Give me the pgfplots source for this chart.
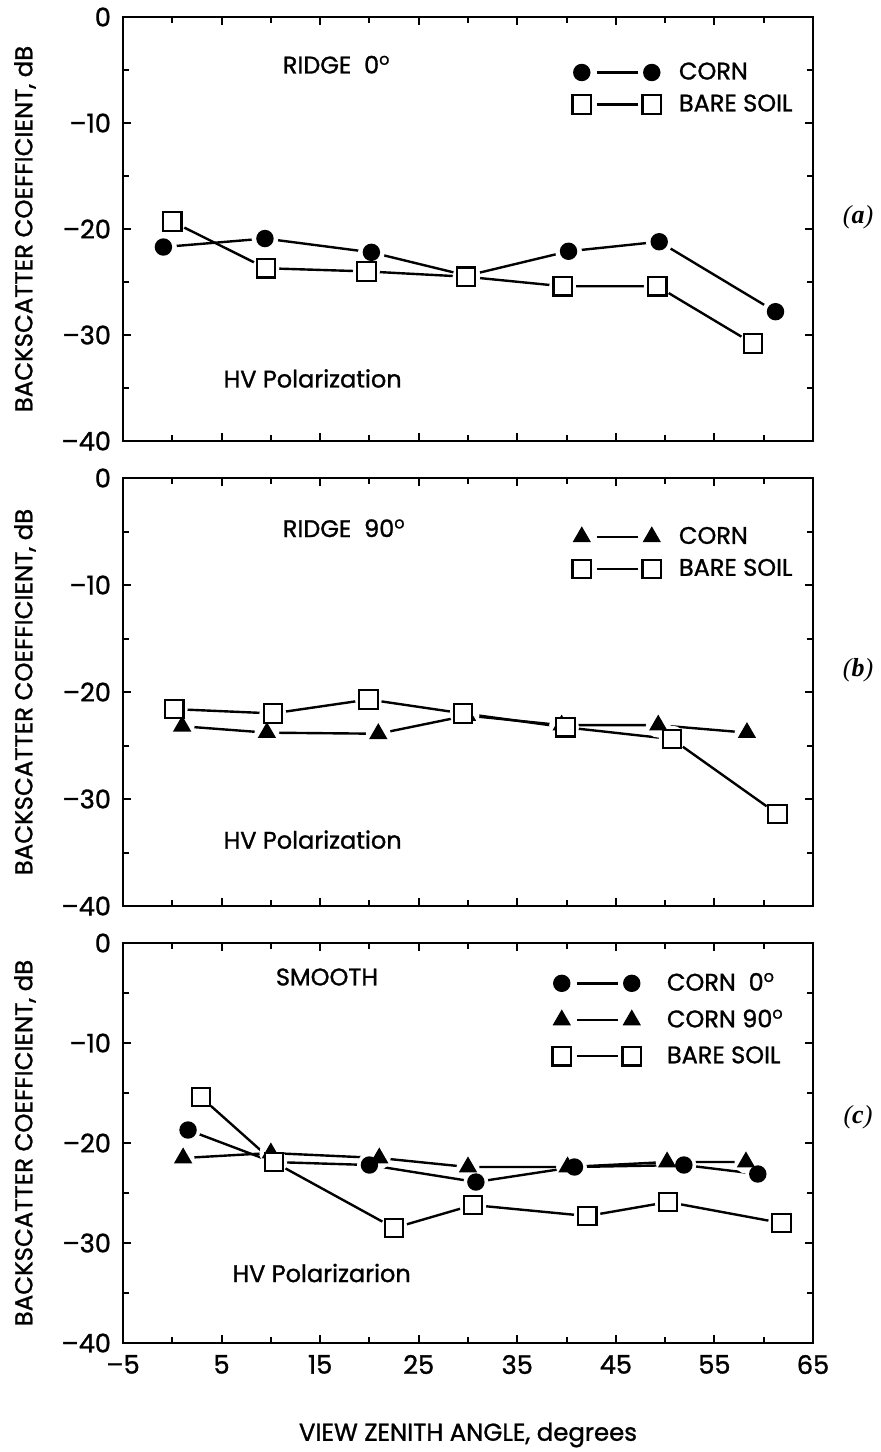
\documentclass[border=0pt]{standalone}
\usepackage{fontspec}
\setmainfont{Poppins}[FakeBold=1.2]
\newfontfamily\serif{Liberation Serif}
\usepackage{pgfplots}
\usepackage{pgfplotstable}
\pgfplotsset{compat=1.18}

\pgfplotstableread{
x y
-0.9 -21.7
9.4 -20.9
20.2 -22.2
29.9 -24.4
40.2 -22.1
49.4 -21.2
61.2 -27.8
}\Acorn
\pgfplotstableread{
x y
0.0 -19.3
9.5 -23.7
19.7 -24.0
29.8 -24.5
39.6 -25.4
49.2 -25.4
58.9 -30.8
}\Asoil
\pgfplotstableread{
x y
1.0 -23.2
9.6 -23.8
20.9 -23.9
29.9 -22.2
39.5 -23.1
49.3 -23.1
58.3 -23.8
}\Bcorn
\pgfplotstableread{
x y
0.2 -21.6
10.2 -22.0
19.9 -20.7
29.5 -22.0
39.9 -23.3
50.7 -24.4
61.4 -31.4
}\Bsoil
\pgfplotstableread{
x y
1.6 -18.7
10.2 -21.9
20.0 -22.2
30.8 -23.9
40.8 -22.4
51.9 -22.2
59.4 -23.1
}\Ccornz
\pgfplotstableread{
x y
1.1 -21.5
10.0 -21.0
21.0 -21.5
30.0 -22.4
40.1 -22.4
50.2 -21.9
58.2 -21.9
}\Ccornn
\pgfplotstableread{
x y
2.9 -15.4
10.3 -21.9
22.5 -28.5
30.5 -26.2
42.1 -27.3
50.3 -25.9
61.8 -28.0
}\Csoil

\newcommand{\lfont}{\fontsize{12.8}{15}\selectfont}
\newcommand{\tfont}{\fontsize{12}{14}\selectfont}

\pgfplotsset{
  panel/.style={
    scale only axis, width=345pt,
    xmin=-5, xmax=65, ymin=-40, ymax=0,
    xtick={-5,5,...,65}, minor xtick={0,10,...,60},
    ytick={-40,-30,...,0}, minor ytick={-35,-25,...,-5},
    yticklabels={–40,–30,–20,–10,0},
    tick align=inside,
    major tick length=4pt, minor tick length=3pt,
    axis line style={line width=1.2pt},
    every tick/.style={black, line width=1pt},
    ticklabel style={font=\lfont},
    yticklabel style={xshift=-2.5pt},
    ylabel={BACKSCATTER COEFFICIENT, dB},
    every axis y label/.style={at={(axis description cs:0,0.5)}, xshift=-49pt, rotate=90, anchor=center, font=\fontsize{12.2}{15}\selectfont},
    legend style={draw=none, fill=none, font=\tfont, row sep=2pt, inner sep=0pt,
      /tikz/every odd column/.append style={column sep=7pt}},
    legend cell align=left,
  },
  lin/.style={forget plot, black, line width=1.2pt, mark=none},
  halo/.style={forget plot, only marks, mark=*, mark size=#1, mark options={fill=white, draw=white}},
  twoend/.style={legend image code/.code={
      \draw[black, line width=1.2pt] (7.5pt,0pt) -- (28pt,0pt);
      \draw[##1, only marks] plot coordinates {(0pt,0pt) (35pt,0pt)};
  }},
  circ/.style={only marks, black, line width=1.1pt, mark=*, mark size=3.8pt, mark options={fill=black, draw=black}, twoend},
  sq/.style={only marks, black, line width=1.1pt, mark=square*, mark size=4.6pt, mark options={fill=white, draw=black}, twoend},
  tri/.style={only marks, black, line width=1.1pt, mark=triangle*, mark size=4.2pt, mark options={fill=black, draw=black}, twoend},
}

\begin{document}
\begin{tikzpicture}
\path[use as bounding box] (-61.5pt,8.5pt) rectangle (378.5pt,-717.5pt);

% ---------- (a)
\begin{axis}[panel, at={(0pt,0pt)}, anchor=north west, height=212pt,
  xticklabels={},
  legend style={at={(0.651,0.903)}, anchor=north west}]
\addplot[lin] table {\Acorn};
\addplot[lin] table {\Asoil};
\addplot[halo=6.5pt] table {\Acorn};
\addplot[halo=6.5pt] table {\Asoil};
\addplot[circ] table {\Acorn}; \addlegendentry{CORN}
\addplot[sq] table {\Asoil}; \addlegendentry{BARE SOIL}
\node[anchor=west, font=\tfont] at (axis cs:10.5,-4.5) {RIDGE\ \ 0\textsuperscript{o}};
\node[anchor=west, font=\tfont] at (axis cs:4.5,-34.1) {HV Polarization};
\end{axis}

% ---------- (b)
\begin{axis}[panel, at={(0pt,-230.5pt)}, anchor=north west, height=214pt,
  xticklabels={},
  legend style={at={(0.651,0.896)}, anchor=north west}]
\addplot[lin] table {\Bcorn};
\addplot[lin] table {\Bsoil};
\addplot[halo=6pt] table {\Bcorn};
\addplot[halo=6.5pt] table {\Bsoil};
\addplot[tri] table {\Bcorn}; \addlegendentry{CORN}
\addplot[sq] table {\Bsoil}; \addlegendentry{BARE SOIL}
\node[anchor=west, font=\tfont] at (axis cs:10.5,-4.7) {RIDGE\ \ 90\textsuperscript{o}};
\node[anchor=west, font=\tfont] at (axis cs:4.5,-33.8) {HV Polarization};
\end{axis}

% ---------- (c)
\begin{axis}[panel, at={(0pt,-463pt)}, anchor=north west, height=200pt,
  xticklabels={–5,5,15,25,35,45,55,65},
  xticklabel style={yshift=-2.5pt},
  xlabel={VIEW ZENITH ANGLE, degrees},
  every axis x label/.style={at={(axis description cs:0.5,0)}, yshift=-46pt, anchor=center, font=\fontsize{12.2}{15}\selectfont},
  legend style={at={(0.622,0.936)}, anchor=north west, row sep=4pt,
      /tikz/every odd column/.append style={column sep=11pt}}]
\addplot[lin] table {\Ccornz};
\addplot[lin] table {\Ccornn};
\addplot[lin] table {\Csoil};
\addplot[halo=6pt] table {\Ccornz};
\addplot[halo=5.5pt] table {\Ccornn};
\addplot[halo=6.5pt] table {\Csoil};
\addplot[circ] table {\Ccornz}; \addlegendentry{CORN\ \ 0\textsuperscript{o}}
\addplot[tri] table {\Ccornn}; \addlegendentry{CORN 90\textsuperscript{o}}
\addplot[sq] table {\Csoil}; \addlegendentry{BARE SOIL}
\node[anchor=west, font=\tfont] at (axis cs:9.8,-3.4) {SMOOTH};
\node[anchor=west, font=\tfont] at (axis cs:5.4,-33) {HV Polarizarion};
\end{axis}

\node[font=\serif\itshape\fontsize{13}{15}\selectfont] at (367.5pt,-100pt) {(\textbf{a})};
\node[font=\serif\itshape\fontsize{13}{15}\selectfont] at (367.5pt,-326.5pt) {(\textbf{b})};
\node[font=\serif\itshape\fontsize{13}{15}\selectfont] at (367.5pt,-550pt) {(\textbf{c})};
\end{tikzpicture}
\end{document}
